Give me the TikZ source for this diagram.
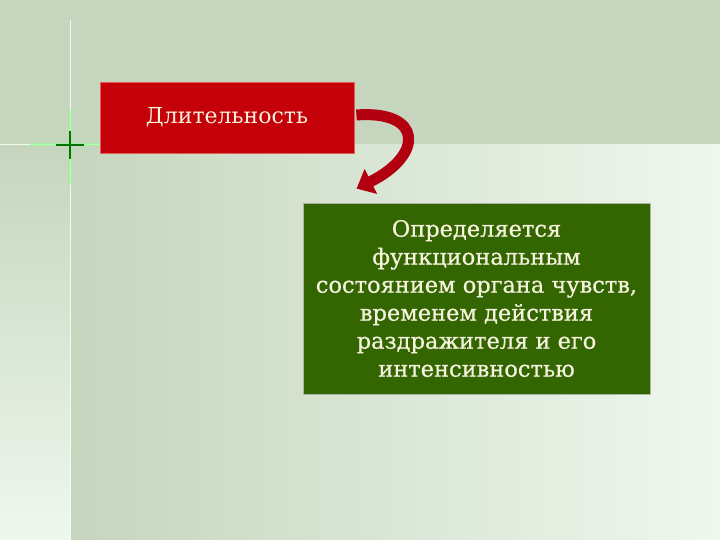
\documentclass[tikz,border=0pt]{standalone}
\usepackage{fontspec}
\setmainfont{DejaVu Serif}
\usetikzlibrary{arrows.meta,calc}
\definecolor{bgdark}{RGB}{198,213,190}
\definecolor{bglight}{RGB}{238,248,238}
\definecolor{boxred}{RGB}{196,0,8}
\definecolor{rededge}{RGB}{225,95,85}
\definecolor{arrred}{RGB}{178,0,16}
\definecolor{boxgreen}{RGB}{51,102,0}
\definecolor{greenedge}{RGB}{170,180,160}
\definecolor{txtcream}{RGB}{245,242,222}
\begin{document}
\begin{tikzpicture}[y=-1pt, x=1pt,
  redbox/.style={fill=boxred, draw=rededge, line width=.8pt, minimum width=254pt, minimum height=71pt, inner sep=0pt, text=txtcream, font=\fontsize{22}{26}\selectfont},
  greenbox/.style={fill=boxgreen, draw=greenedge, line width=.8pt, minimum width=347pt, minimum height=191pt, inner sep=0pt, align=center, text=txtcream, font=\fontsize{22.5}{28}\selectfont\addfontfeature{FakeBold=0.6}},
  glow/.style={green!45!white, line width=3pt, opacity=.6}]
\useasboundingbox (0,0) rectangle (720,540);
\fill[bgdark] (0,0) rectangle (720,145);
\shade[top color=bgdark, bottom color=bglight] (0,145) rectangle (70,540);
\shade[left color=bgdark, right color=bglight] (70,145) rectangle (720,540);

\draw[white!75!green!30, line width=1pt] (70,20) -- (70,540);
\draw[white!75!green!30, line width=1pt] (0,145) -- (100,145);
\draw[glow] (30,145) -- (100,145);
\draw[glow] (70,110) -- (70,185);
\draw[green!45!black, line width=1.3pt] (56,145) -- (84,145);
\draw[green!45!black, line width=1.3pt] (70,131) -- (70,159);

\node[redbox] (dlit) at (227,117.5) {\raisebox{-2pt}{Длительность}};
\node[greenbox] (opr) at (476.5,298.5) {Определяется\\функциональным\\состоянием органа чувств,\\временем действия\\раздражителя и его\\интенсивностью};

\draw[arrred, line width=11pt, -{Triangle[width=27pt,length=16pt]}]
  ($(dlit.east)+(2,-2.5)$) .. controls +(66,-5) and +(68,-34) .. ($(opr.north west)+(54,-14)$);
\end{tikzpicture}
\end{document}
